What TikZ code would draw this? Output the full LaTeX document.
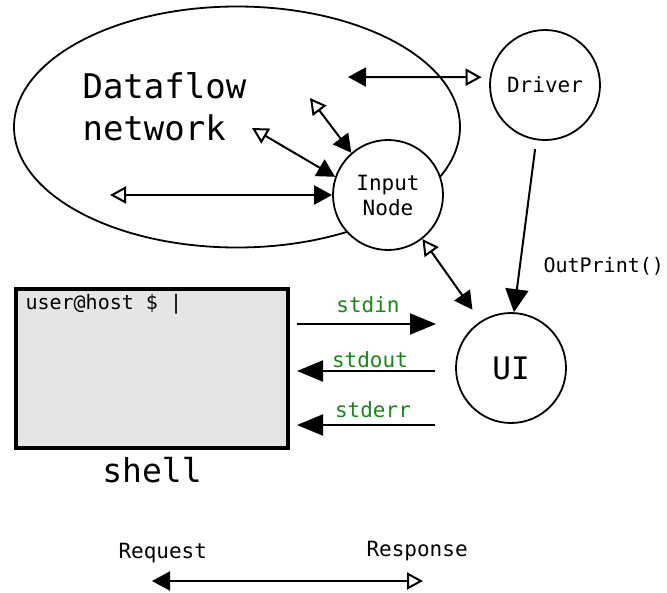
\documentclass[tikz,border=0pt]{standalone}
\usepackage{fontspec}
\setmonofont{DejaVu Sans Mono}
\usetikzlibrary{arrows.meta,shapes.geometric}
\definecolor{shellgray}{RGB}{229,229,229}
\definecolor{streamgreen}{RGB}{20,138,20}
\begin{document}
\begin{tikzpicture}[x=1pt,y=-1pt,font=\ttfamily,
  bub/.style={circle,draw,line width=1.8pt,fill=white,minimum size=110pt,inner sep=0pt,align=center},
  small/.style={font=\ttfamily\fontsize{21}{25}\selectfont},
  rr/.style={line width=2pt,{Triangle[length=18pt,width=19pt]}-{Triangle[open,length=16pt,width=17pt,fill=white]}},
  std/.style={line width=2pt,-{Triangle[length=26pt,width=21pt]}},
  lbl/.style={small,text=streamgreen,anchor=base}]
\useasboundingbox (0,0) rectangle (667,592);

% dataflow network
\node[ellipse,draw,line width=1.8pt,minimum width=446pt,minimum height=241pt] (net) at (237,127) {};
\node[anchor=base west,font=\ttfamily\fontsize{34}{40}\selectfont] (t1) at (79,98) {Dataflow};
\node[anchor=base west,font=\ttfamily\fontsize{34}{40}\selectfont] (t2) at (79,140) {network};

% nodes
\node[bub,small] (inp) at (388,195) {Input\\Node};
\node[bub,small] (drv) at (545,85) {Driver};
\node[bub,font=\ttfamily\fontsize{31}{36}\selectfont] (ui) at (511,368) {UI};

% free ends inside the network
\coordinate (a1) at (348,77);
\coordinate (a2) at (310,98);
\coordinate (a3) at (252,128);
\coordinate (a4) at (110,195);

\draw[rr,shorten >=8pt] (a1) -- (drv.172);
\draw[rr] (inp.131) -- (a2);
\draw[rr] (inp.161) -- (a3);
\draw[rr] (inp.180) -- (a4);
\draw[rr,shorten <=14pt] (ui.123) -- (inp.308);

% driver to UI
\draw[line width=2pt,-{Triangle[length=23pt,width=23pt]},shorten <=9pt] (drv.261) -- (ui.87);
\node[font=\ttfamily\fontsize{20}{24}\selectfont,anchor=base west] (op) at (540,272) {OutPrint()};

% shell
\node[draw,line width=4pt,fill=shellgray,minimum width=272pt,minimum height=159pt,inner sep=0pt] (shell) at (152,368.5) {};
\node[anchor=base west,font=\ttfamily\fontsize{20}{24}\selectfont] (prompt) at (22,309) {user@host \$ |};
\node[anchor=base,font=\ttfamily\fontsize{33}{40}\selectfont] (shl) at (152,482) {shell};

% standard streams
\coordinate (in1) at (297,324);  \coordinate (in2) at (436,324);
\coordinate (out1) at (435,371); \coordinate (out2) at (297,371);
\coordinate (err1) at (435,425); \coordinate (err2) at (297,425);
\draw[std] (in1) -- (in2);
\draw[std] (out1) -- (out2);
\draw[std] (err1) -- (err2);
\node[lbl] (lin) at (368,312) {stdin};
\node[lbl] (lout) at (370,367) {stdout};
\node[lbl] (lerr) at (373,417) {stderr};

% legend
\node[small,anchor=base west] (req) at (115,558) {Request};
\node[small,anchor=base west] (resp) at (363,556) {Response};
\coordinate (l1) at (152,581);
\coordinate (l2) at (423,581);
\draw[rr] (l1) -- (l2);
\end{tikzpicture}
\end{document}
